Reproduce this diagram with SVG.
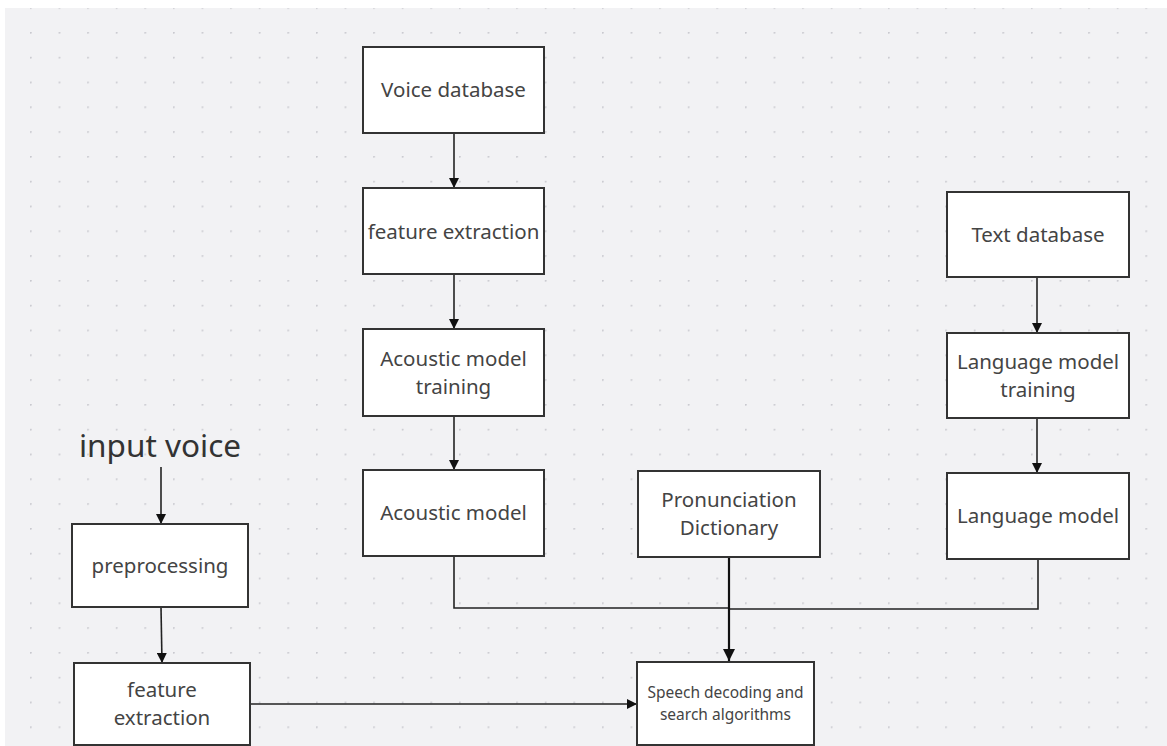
<svg xmlns="http://www.w3.org/2000/svg" width="1167" height="746" viewBox="0 0 1167 746">
<defs>
<pattern id="dots" x="30" y="32" width="28.6" height="24.8" patternUnits="userSpaceOnUse">
<circle cx="0.8" cy="0.8" r="1" fill="#c9c9cf"/>
</pattern>
<marker id="ah" viewBox="0 0 10 10" refX="10" refY="5" markerWidth="10" markerHeight="10" markerUnits="userSpaceOnUse" orient="auto">
<path d="M0,0 L10,5 L0,10 z" fill="#111"/>
</marker>
<marker id="ahb" viewBox="0 0 10 10" refX="10" refY="5" markerWidth="12" markerHeight="12" markerUnits="userSpaceOnUse" orient="auto">
<path d="M0,0 L10,5 L0,10 z" fill="#111"/>
</marker>
</defs>
<style>
.box{fill:#fff;stroke:#333;stroke-width:2}
.t{font-family:"Noto Sans","Open Sans",sans-serif;font-size:20.5px;fill:#444;text-anchor:middle}
.s{font-size:15.5px}
.c{fill:none;stroke:#222;stroke-width:1.6}
</style>
<rect width="1167" height="746" fill="#fff"/>
<rect x="5" y="8" width="1162" height="738" fill="#f2f2f4"/>
<rect x="5" y="8" width="1162" height="738" fill="url(#dots)"/>

<g id="connectors">
<line class="c" x1="454" y1="133" x2="454" y2="188" marker-end="url(#ah)"/>
<line class="c" x1="454" y1="274" x2="454" y2="329" marker-end="url(#ah)"/>
<line class="c" x1="454" y1="416" x2="454" y2="470" marker-end="url(#ah)"/>
<line class="c" x1="1037" y1="277" x2="1037" y2="333" marker-end="url(#ah)"/>
<line class="c" x1="1037" y1="418" x2="1037" y2="473" marker-end="url(#ah)"/>
<polyline class="c" points="454,556 454,608 729,608"/>
<polyline class="c" points="1038,559 1038,609 729,609"/>
<line x1="729" y1="557" x2="729" y2="661" stroke="#111" stroke-width="2.2" marker-end="url(#ahb)"/>
<line class="c" x1="161" y1="467" x2="161" y2="524" marker-end="url(#ah)"/>
<line class="c" x1="161" y1="607" x2="162" y2="663" marker-end="url(#ah)"/>
<line class="c" x1="250" y1="704" x2="637" y2="704" marker-end="url(#ah)"/>
</g>

<g id="input-voice">
<text x="160" y="457" style="font-family:'Noto Sans','Open Sans',sans-serif;font-size:31.5px;fill:#333;text-anchor:middle">input voice</text>
</g>
<g id="voice-database">
<rect class="box" x="363" y="47" width="181" height="86"/>
<text class="t" x="453.5" y="97">Voice database</text>
</g>
<g id="feature-extraction-top">
<rect class="box" x="363" y="188" width="181" height="86"/>
<text class="t" x="453.5" y="239">feature extraction</text>
</g>
<g id="acoustic-model-training">
<rect class="box" x="363" y="329" width="181" height="87"/>
<text class="t" x="453.5" y="366">Acoustic model</text>
<text class="t" x="453.5" y="394">training</text>
</g>
<g id="acoustic-model">
<rect class="box" x="363" y="470" width="181" height="86"/>
<text class="t" x="453.5" y="520">Acoustic model</text>
</g>
<g id="pronunciation-dictionary">
<rect class="box" x="638" y="471" width="182" height="86"/>
<text class="t" x="729" y="507">Pronunciation</text>
<text class="t" x="729" y="535">Dictionary</text>
</g>
<g id="text-database">
<rect class="box" x="947" y="192" width="182" height="85"/>
<text class="t" x="1038" y="242">Text database</text>
</g>
<g id="language-model-training">
<rect class="box" x="947" y="333" width="182" height="85"/>
<text class="t" x="1038" y="369">Language model</text>
<text class="t" x="1038" y="397">training</text>
</g>
<g id="language-model">
<rect class="box" x="947" y="473" width="182" height="86"/>
<text class="t" x="1038" y="523">Language model</text>
</g>
<g id="preprocessing">
<rect class="box" x="72" y="524" width="176" height="83"/>
<text class="t" x="160" y="573">preprocessing</text>
</g>
<g id="feature-extraction-bottom">
<rect class="box" x="74" y="663" width="176" height="82"/>
<text class="t" x="162" y="697">feature</text>
<text class="t" x="162" y="725">extraction</text>
</g>
<g id="speech-decoding">
<rect class="box" x="637" y="662" width="177" height="83"/>
<text class="t s" x="725.5" y="698">Speech decoding and</text>
<text class="t s" x="725.5" y="720">search algorithms</text>
</g>
</svg>
